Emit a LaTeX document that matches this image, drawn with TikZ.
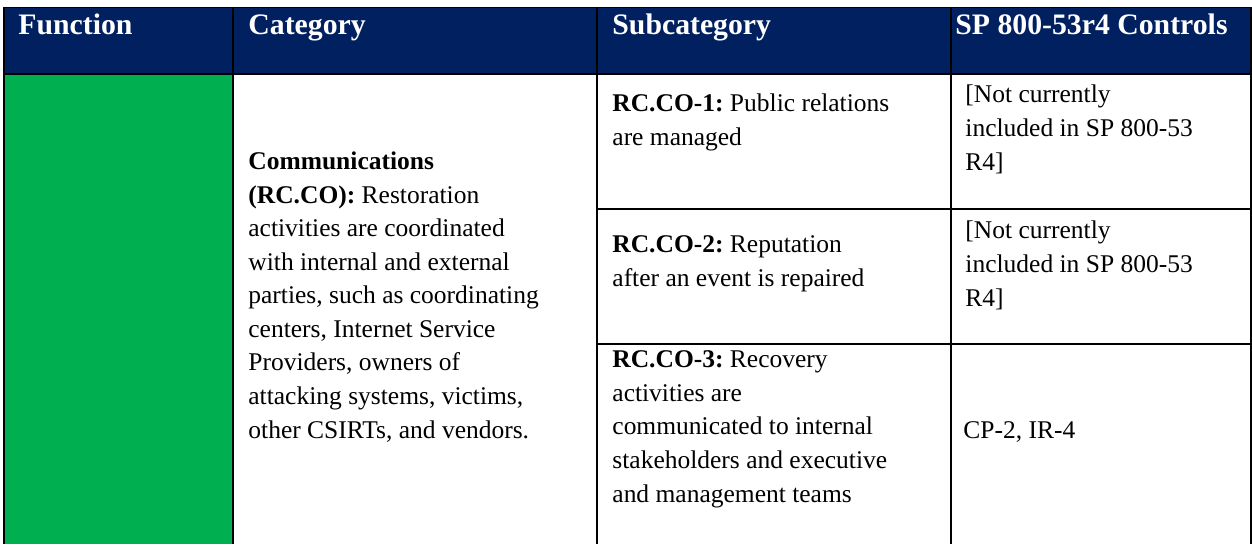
\documentclass[tikz,border=0pt]{standalone}
\usepackage{fontspec}
\setmainfont{Liberation Serif}
\definecolor{hdrnavy}{HTML}{002060}
\definecolor{fngreen}{HTML}{00B050}
\frenchspacing
\begin{document}
\begin{tikzpicture}
    [x=0.4706pt,y=-0.4706pt,
     rule/.style={draw=black,line width=0.75pt},
     hdr/.style={anchor=base west,inner sep=0pt,text=white,
                 font=\fontsize{14}{17}\selectfont\bfseries},
     txt/.style={anchor=base west,inner sep=0pt,align=left,
                 font=\fontsize{12}{15.77}\selectfont}]
    \useasboundingbox (0,0) rectangle (1252,544);
    \fill [hdrnavy] (4,7.5) rectangle (1251,74);
    \fill [fngreen] (4,74) rectangle (233,544);
    % table rules
    \draw [rule] (4,544) -- (4,7.5) -- (1251,7.5) -- (1251,544);
    \draw [rule] (4,74) -- (1251,74);
    \draw [rule] (233,7.5) -- (233,544);
    \draw [rule] (597,7.5) -- (597,544);
    \draw [rule] (951,7.5) -- (951,544);
    \draw [rule] (597,209) -- (1251,209);
    \draw [rule] (597,344) -- (1251,344);
    % header row
    \node [hdr] (fn) at (18,34) {Function};
    \node [hdr] (cat) at (248,34) {Category};
    \node [hdr] (sub) at (612,34) {Subcategory};
    \node [hdr] (ctl) at (955,34) {SP 800-53r4 Controls};
    % body (placed at the baseline of the last line)
    \node [txt] (catco) at (248,438) {\textbf{Communications}\\
      \textbf{(RC.CO):} Restoration\\activities are coordinated\\
      with internal and external\\parties, such as coordinating\\
      centers, Internet Service\\Providers, owners of\\
      attacking systems, victims,\\other CSIRTs, and vendors.};
    \node [txt] (co1) at (612,145.5) {\textbf{RC.CO-1:} Public relations\\are managed};
    \node [txt] (co2) at (612,286.5) {\textbf{RC.CO-2:} Reputation\\after an event is repaired};
    \node [txt] (co3) at (612,502) {\textbf{RC.CO-3:} Recovery\\activities are\\
      communicated to internal\\stakeholders and executive\\and management teams};
    \node [txt] (ctl1) at (965,170) {[Not currently\\included in SP 800-53\\R4]};
    \node [txt] (ctl2) at (965,306) {[Not currently\\included in SP 800-53\\R4]};
    \node [txt] (ctl3) at (963,438) {CP-2, IR-4};
  \end{tikzpicture}
\end{document}
